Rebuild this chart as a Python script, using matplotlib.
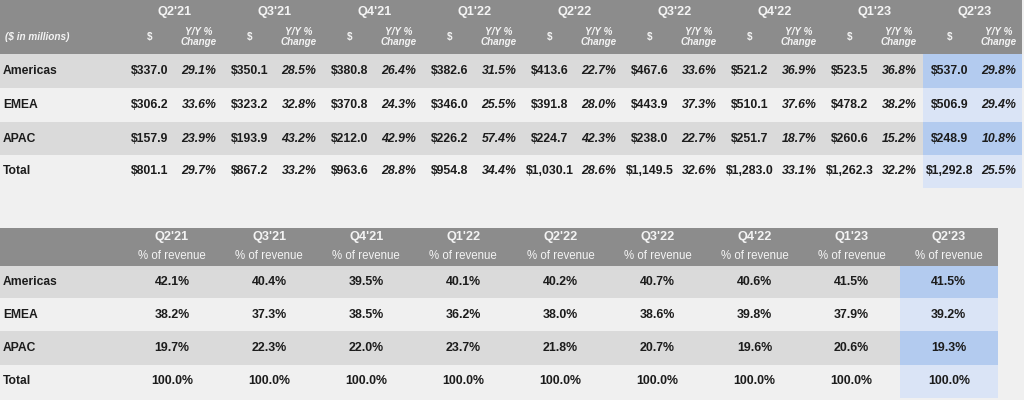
import matplotlib.pyplot as plt
from matplotlib.patches import Rectangle

quarters = ["Q2'21", "Q3'21", "Q4'21", "Q1'22", "Q2'22", "Q3'22", "Q4'22", "Q1'23", "Q2'23"]
regions = ["Americas", "EMEA", "APAC", "Total"]

americas_rev = [337.0, 350.1, 380.8, 382.6, 413.6, 467.6, 521.2, 523.5, 537.0]
emea_rev = [306.2, 323.2, 370.8, 346.0, 391.8, 443.9, 510.1, 478.2, 506.9]
apac_rev = [157.9, 193.9, 212.0, 226.2, 224.7, 238.0, 251.7, 260.6, 248.9]
total_rev = [801.1, 867.2, 963.6, 954.8, 1030.1, 1149.5, 1283.0, 1262.3, 1292.8]

americas_yoy = [29.1, 28.5, 26.4, 31.5, 22.7, 33.6, 36.9, 36.8, 29.8]
emea_yoy = [33.6, 32.8, 24.3, 25.5, 28.0, 37.3, 37.6, 38.2, 29.4]
apac_yoy = [23.9, 43.2, 42.9, 57.4, 42.3, 22.7, 18.7, 15.2, 10.8]
total_yoy = [29.7, 33.2, 28.8, 34.4, 28.6, 32.6, 33.1, 32.2, 25.5]

americas_share = [42.1, 40.4, 39.5, 40.1, 40.2, 40.7, 40.6, 41.5, 41.5]
emea_share = [38.2, 37.3, 38.5, 36.2, 38.0, 38.6, 39.8, 37.9, 39.2]
apac_share = [19.7, 22.3, 22.0, 23.7, 21.8, 20.7, 19.6, 20.6, 19.3]
total_share = [100.0, 100.0, 100.0, 100.0, 100.0, 100.0, 100.0, 100.0, 100.0]

revenue = [americas_rev, emea_rev, apac_rev, total_rev]
yoy = [americas_yoy, emea_yoy, apac_yoy, total_yoy]
share = [americas_share, emea_share, apac_share, total_share]

# colours
BG = "#f0f0f0"
HEAD = "#8c8c8c"
DARK = "#dadada"
LIGHT = "#f0f0f0"
BLUE_D = "#b3cbef"
BLUE_L = "#dae4f6"
HTXT = "#f4f4f4"
TXT = "#1c1c1c"

plt.rcParams['font.family'] = ['Liberation Sans', 'DejaVu Sans']

fig = plt.figure(figsize=(10.24, 4.0), dpi=100, facecolor=BG)
ax = fig.add_axes([0, 0, 1, 1])
ax.set_xlim(0, 1024)
ax.set_ylim(400, 0)
ax.axis("off")


def rect(x0, y0, x1, y1, c):
    ax.add_patch(Rectangle((x0, y0), x1 - x0, y1 - y0, facecolor=c, edgecolor="none"))


# ---------------- top table ----------------
t_head = (0, 54)
t_rows = [(54, 88), (88, 122), (122, 155), (155, 188)]
t_right = 1022
dol_x = [150 + 100 * k for k in range(len(quarters))]
yoy_x = [199 + 100 * k for k in range(len(quarters))]
hi_x0 = 923

rect(0, t_head[0], t_right, t_head[1], HEAD)
for i, (y0, y1) in enumerate(t_rows):
    rect(0, y0, t_right, y1, DARK if i % 2 == 0 else LIGHT)
    rect(hi_x0, y0, t_right, y1, BLUE_D if i % 2 == 0 else BLUE_L)

ax.text(5, 37, "($ in millions)", fontsize=7.2, fontweight="bold", style="italic",
        color=HTXT, va="center", ha="left")
for k, q in enumerate(quarters):
    xc = (dol_x[k] + yoy_x[k]) / 2
    ax.text(xc, 12, q, fontsize=9.2, fontweight="bold", color=HTXT, ha="center", va="center")
    ax.text(dol_x[k], 37, "$", fontsize=7.2, fontweight="bold", color=HTXT, ha="center", va="center")
    ax.text(yoy_x[k], 37, "Y/Y %\nChange", fontsize=7.1, fontweight="bold", style="italic",
            color=HTXT, ha="center", va="center", linespacing=1.05)

for i, reg in enumerate(regions):
    yc = (t_rows[i][0] + t_rows[i][1]) / 2
    ax.text(3, yc, reg, fontsize=8.7, fontweight="bold", color=TXT, ha="left", va="center")
    for k in range(len(quarters)):
        ax.text(dol_x[k], yc, "${:,.1f}".format(revenue[i][k]), fontsize=8.8,
                fontweight="bold", color=TXT, ha="center", va="center")
        ax.text(yoy_x[k], yc, "{:.1f}%".format(yoy[i][k]), fontsize=8.8,
                fontweight="bold", style="italic", color=TXT, ha="center", va="center")

# ---------------- bottom table ----------------
b_head = (228, 266)
b_rows = [(266, 298), (298, 331), (331, 365), (365, 398)]
b_right = 998
pct_x = [172 + 97.1 * k for k in range(len(quarters))]
bhi_x0 = 900

rect(0, b_head[0], b_right, b_head[1], HEAD)
for i, (y0, y1) in enumerate(b_rows):
    rect(0, y0, b_right, y1, DARK if i % 2 == 0 else LIGHT)
    rect(bhi_x0, y0, b_right, y1, BLUE_D if i % 2 == 0 else BLUE_L)

for k, q in enumerate(quarters):
    ax.text(pct_x[k], 237, q, fontsize=9.2, fontweight="bold", color=HTXT, ha="center", va="center")
    ax.text(pct_x[k], 256, "% of revenue", fontsize=8.3, color=HTXT, ha="center", va="center")

for i, reg in enumerate(regions):
    yc = (b_rows[i][0] + b_rows[i][1]) / 2
    ax.text(3, yc, reg, fontsize=8.7, fontweight="bold", color=TXT, ha="left", va="center")
    for k in range(len(quarters)):
        ax.text(pct_x[k], yc, "{:.1f}%".format(share[i][k]), fontsize=8.9,
                fontweight="bold", color=TXT, ha="center", va="center")

fig.savefig("out.png", dpi=100, facecolor=BG)
